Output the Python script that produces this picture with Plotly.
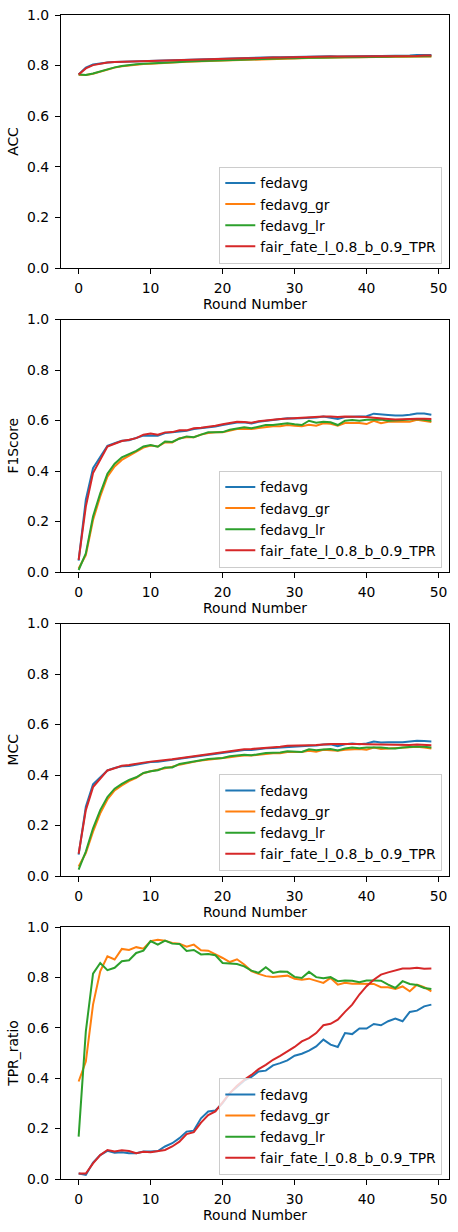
import plotly.graph_objects as go

rounds = list(range(50))
series_names = ["fedavg", "fedavg_gr", "fedavg_lr", "fair_fate_l_0.8_b_0.9_TPR"]
colors = ["#1f77b4", "#ff7f0e", "#2ca02c", "#d62728"]
metric_titles = ["ACC", "F1Score", "MCC", "TPR_ratio"]
x_title = "Round Number"
x_ticks = [0, 10, 20, 30, 40, 50]
y_ticks = [0.0, 0.2, 0.4, 0.6, 0.8, 1.0]

acc_fedavg = [0.765,0.792,0.804,0.809,0.812,0.814,0.815,0.816,0.817,0.818,0.819,0.820,0.821,0.822,0.822,0.824,0.825,0.825,0.826,0.826,0.828,0.829,0.829,0.830,0.830,0.832,0.832,0.833,0.833,0.834,0.834,0.835,0.835,0.836,0.836,0.837,0.836,0.837,0.837,0.838,0.837,0.838,0.838,0.838,0.839,0.839,0.840,0.842,0.843,0.842]
acc_fedavg_gr = [0.764,0.763,0.768,0.776,0.785,0.792,0.797,0.801,0.804,0.806,0.807,0.809,0.810,0.811,0.813,0.815,0.816,0.817,0.819,0.819,0.821,0.822,0.823,0.824,0.825,0.826,0.827,0.827,0.828,0.828,0.829,0.830,0.830,0.831,0.831,0.832,0.831,0.832,0.833,0.833,0.834,0.834,0.834,0.835,0.835,0.835,0.836,0.836,0.836,0.836]
acc_fedavg_lr = [0.765,0.763,0.769,0.778,0.787,0.793,0.798,0.802,0.805,0.807,0.808,0.810,0.811,0.812,0.814,0.816,0.817,0.818,0.820,0.820,0.823,0.823,0.824,0.825,0.826,0.827,0.828,0.828,0.828,0.829,0.829,0.831,0.831,0.831,0.832,0.832,0.832,0.833,0.833,0.833,0.835,0.835,0.835,0.835,0.836,0.836,0.836,0.836,0.837,0.837]
acc_fair_fate = [0.765,0.789,0.802,0.808,0.812,0.814,0.815,0.815,0.816,0.817,0.819,0.819,0.820,0.821,0.821,0.823,0.824,0.824,0.825,0.825,0.827,0.828,0.828,0.829,0.829,0.831,0.832,0.832,0.832,0.833,0.833,0.835,0.835,0.835,0.836,0.836,0.836,0.836,0.837,0.837,0.837,0.837,0.837,0.838,0.838,0.838,0.838,0.838,0.840,0.840]

f1_fedavg = [0.045,0.286,0.411,0.455,0.500,0.510,0.520,0.522,0.532,0.540,0.541,0.540,0.550,0.553,0.558,0.559,0.566,0.569,0.572,0.576,0.582,0.587,0.592,0.593,0.588,0.595,0.599,0.602,0.605,0.609,0.608,0.609,0.611,0.612,0.616,0.610,0.606,0.614,0.615,0.616,0.617,0.627,0.623,0.622,0.620,0.620,0.623,0.628,0.628,0.623]
f1_fedavg_gr = [0.014,0.067,0.206,0.299,0.378,0.418,0.444,0.460,0.476,0.493,0.501,0.497,0.513,0.513,0.530,0.534,0.534,0.544,0.550,0.553,0.553,0.561,0.566,0.566,0.566,0.570,0.574,0.577,0.577,0.582,0.579,0.577,0.583,0.579,0.589,0.587,0.579,0.590,0.590,0.590,0.586,0.599,0.589,0.595,0.595,0.595,0.595,0.603,0.599,0.594]
f1_fedavg_lr = [0.008,0.074,0.220,0.312,0.389,0.429,0.454,0.467,0.480,0.497,0.503,0.496,0.517,0.515,0.528,0.537,0.534,0.544,0.553,0.553,0.554,0.563,0.569,0.573,0.569,0.575,0.582,0.582,0.585,0.589,0.585,0.582,0.599,0.591,0.595,0.593,0.582,0.599,0.602,0.599,0.603,0.603,0.604,0.599,0.599,0.602,0.604,0.606,0.603,0.599]
f1_fair_fate = [0.048,0.259,0.392,0.444,0.497,0.508,0.519,0.524,0.530,0.544,0.548,0.544,0.553,0.554,0.561,0.561,0.569,0.571,0.574,0.579,0.585,0.590,0.595,0.594,0.591,0.597,0.601,0.603,0.606,0.608,0.610,0.610,0.612,0.614,0.616,0.616,0.614,0.616,0.616,0.615,0.614,0.611,0.610,0.606,0.604,0.606,0.607,0.607,0.607,0.606]

mcc_fedavg = [0.085,0.274,0.363,0.389,0.418,0.428,0.435,0.436,0.441,0.448,0.451,0.452,0.457,0.460,0.464,0.468,0.472,0.475,0.480,0.483,0.488,0.493,0.497,0.499,0.499,0.503,0.506,0.507,0.509,0.513,0.513,0.515,0.516,0.517,0.521,0.522,0.514,0.522,0.525,0.522,0.525,0.533,0.529,0.530,0.529,0.530,0.533,0.536,0.535,0.533]
mcc_fedavg_gr = [0.038,0.091,0.176,0.248,0.303,0.339,0.359,0.376,0.389,0.407,0.415,0.420,0.427,0.433,0.441,0.448,0.452,0.457,0.461,0.464,0.466,0.470,0.474,0.477,0.477,0.480,0.483,0.486,0.486,0.491,0.491,0.491,0.496,0.492,0.500,0.499,0.496,0.500,0.501,0.503,0.500,0.509,0.503,0.505,0.505,0.507,0.508,0.512,0.509,0.505]
mcc_fedavg_lr = [0.025,0.097,0.189,0.261,0.313,0.346,0.365,0.381,0.391,0.408,0.415,0.419,0.430,0.430,0.444,0.449,0.452,0.457,0.463,0.465,0.467,0.474,0.477,0.480,0.478,0.483,0.487,0.488,0.489,0.494,0.492,0.491,0.502,0.498,0.501,0.503,0.497,0.505,0.509,0.506,0.509,0.510,0.509,0.506,0.505,0.509,0.512,0.513,0.512,0.509]
mcc_fair_fate = [0.088,0.261,0.352,0.385,0.418,0.427,0.437,0.440,0.443,0.449,0.453,0.455,0.460,0.462,0.466,0.470,0.475,0.478,0.483,0.486,0.491,0.496,0.500,0.502,0.503,0.505,0.509,0.510,0.512,0.516,0.516,0.517,0.518,0.519,0.522,0.523,0.523,0.523,0.525,0.523,0.522,0.521,0.521,0.519,0.518,0.518,0.519,0.521,0.519,0.518]

tpr_fedavg = [0.022,0.016,0.065,0.095,0.112,0.104,0.106,0.102,0.102,0.109,0.109,0.111,0.129,0.142,0.162,0.188,0.192,0.241,0.268,0.272,0.301,0.341,0.365,0.390,0.405,0.427,0.430,0.451,0.460,0.471,0.489,0.497,0.509,0.526,0.553,0.533,0.524,0.579,0.575,0.597,0.597,0.615,0.610,0.626,0.637,0.626,0.663,0.668,0.685,0.692]
tpr_fedavg_gr = [0.387,0.466,0.692,0.824,0.884,0.871,0.913,0.909,0.920,0.914,0.944,0.949,0.946,0.937,0.934,0.922,0.930,0.908,0.906,0.893,0.877,0.861,0.872,0.851,0.825,0.814,0.805,0.802,0.805,0.807,0.795,0.791,0.795,0.785,0.778,0.798,0.771,0.779,0.775,0.775,0.775,0.774,0.761,0.761,0.754,0.764,0.745,0.771,0.761,0.745]
tpr_fedavg_lr = [0.168,0.586,0.815,0.857,0.829,0.838,0.864,0.868,0.897,0.906,0.944,0.930,0.946,0.934,0.933,0.905,0.909,0.891,0.893,0.888,0.857,0.856,0.853,0.844,0.827,0.818,0.840,0.818,0.823,0.822,0.802,0.798,0.822,0.801,0.797,0.801,0.785,0.788,0.787,0.781,0.788,0.788,0.787,0.771,0.758,0.785,0.774,0.770,0.758,0.754]
tpr_fair_fate = [0.022,0.022,0.062,0.095,0.115,0.109,0.114,0.111,0.102,0.108,0.106,0.109,0.115,0.129,0.148,0.178,0.186,0.224,0.254,0.268,0.307,0.341,0.370,0.394,0.413,0.436,0.453,0.473,0.489,0.506,0.524,0.546,0.559,0.579,0.610,0.616,0.632,0.663,0.692,0.732,0.765,0.791,0.811,0.820,0.828,0.835,0.835,0.838,0.834,0.835]

panels = [
    [acc_fedavg, acc_fedavg_gr, acc_fedavg_lr, acc_fair_fate],
    [f1_fedavg, f1_fedavg_gr, f1_fedavg_lr, f1_fair_fate],
    [mcc_fedavg, mcc_fedavg_gr, mcc_fedavg_lr, mcc_fair_fate],
    [tpr_fedavg, tpr_fedavg_gr, tpr_fedavg_lr, tpr_fair_fate],
]

FONT = "DejaVu Sans"
FS = 13.9
W, H = 458, 1232
ML, MR, MT, MB = 61, 9, 15, 53
plot_h = H - MT - MB
plot_w = W - ML - MR

panel_px = [(15, 268), (319.5, 572), (623.5, 876), (927, 1179)]
legend_bottom_px = [263.5, 567.5, 871, 1175]

def py(px):
    return (H - MB - px) / plot_h

fig = go.Figure()
layout = dict(
    width=W, height=H,
    margin=dict(l=ML, r=MR, t=MT, b=MB, autoexpand=False),
    paper_bgcolor="white", plot_bgcolor="white",
    font=dict(family=FONT, size=FS, color="black"),
)

for i, data in enumerate(panels):
    suffix = "" if i == 0 else str(i + 1)
    leg = "legend" if i == 0 else f"legend{i+1}"
    for name, col, vals in zip(series_names, colors, data):
        fig.add_trace(go.Scatter(
            x=rounds, y=vals, mode="lines", name=name,
            line=dict(color=col, width=2),
            xaxis="x" + suffix, yaxis="y" + suffix,
            legend=leg, showlegend=True,
        ))
    top, bot = panel_px[i]
    layout["xaxis" + suffix] = dict(
        domain=[0, 1], anchor="y" + suffix, range=[-2.45, 51.45], automargin=False,
        tickvals=x_ticks, ticks="outside", ticklen=5, tickwidth=1.1, tickcolor="black",
        ticklabelstandoff=2,
        showline=True, linecolor="black", linewidth=1.1, mirror=True,
        showgrid=False, zeroline=False,
        title=dict(text=x_title, font=dict(size=FS), standoff=4),
        tickfont=dict(size=FS),
    )
    layout["yaxis" + suffix] = dict(
        domain=[py(bot), min(1.0, py(top))], anchor="x" + suffix, range=[0, 1], automargin=False,
        tickvals=y_ticks, tickformat=".1f", ticks="outside", ticklen=5, tickwidth=1.1, tickcolor="black",
        ticklabelstandoff=3,
        showline=True, linecolor="black", linewidth=1.1, mirror=True,
        showgrid=False, zeroline=False,
        title=dict(text=metric_titles[i], font=dict(size=FS), standoff=5),
        tickfont=dict(size=FS),
    )
    layout[leg] = dict(
        x=(442.3 - ML) / plot_w, xanchor="right",
        y=py(legend_bottom_px[i]), yanchor="bottom",
        bgcolor="rgba(255,255,255,0.8)", bordercolor="#cccccc", borderwidth=1,
        font=dict(family=FONT, size=FS, color="black"),
        tracegroupgap=0,
    )

fig.update_layout(**layout)
fig.write_html(
    "out.html",
    config={"displayModeBar": False},
    post_script="document.body.style.margin='0px';document.body.style.overflow='hidden';",
)
